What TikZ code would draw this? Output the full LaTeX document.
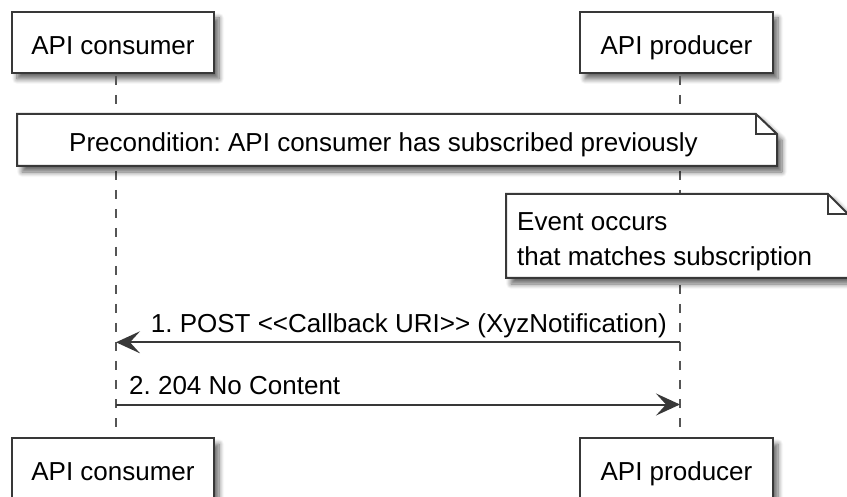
\documentclass[tikz,border=0pt]{standalone}
\usepackage{fontspec}
\setmainfont{Liberation Sans}
\usetikzlibrary{arrows.meta,shadows.blur}
\definecolor{edge}{HTML}{383838}
\definecolor{lifegray}{HTML}{555555}
\frenchspacing
\tikzset{
  softshadow/.style={blur shadow={shadow xshift=5pt, shadow yshift=-6pt,
      shadow blur radius=5pt, shadow blur steps=8, shadow opacity=60}},
  participant/.style={draw=edge, line width=2pt, fill=white, softshadow,
      minimum height=61pt, inner sep=0pt, text height=24pt, text depth=0pt,
      font=\fontsize{26}{31}\selectfont},
  notebody/.style={draw=edge, line width=2pt, fill=white, line join=miter, softshadow},
  notefold/.style={draw=edge, line width=2pt},
  lifeline/.style={draw=lifegray, line width=2pt, dash pattern=on 9pt off 10pt},
  message/.style={draw=edge, line width=2pt,
      -{Stealth[length=24pt, width=22pt, inset=10pt]}},
  msglabel/.style={font=\fontsize{26}{31}\selectfont, inner sep=0pt, anchor=base west},
  notetext/.style={font=\fontsize{26}{31}\selectfont, inner sep=0pt},
}
\begin{document}
\begin{tikzpicture}[x=1pt, y=-1pt]
  \useasboundingbox (0,0) rectangle (847,497);
  \clip (0,0) rectangle (847,497);

  % participant heads and feet
  \path (113,42.5) node[participant, minimum width=202pt] (cTop) {API consumer};
  \path (676.5,42.5) node[participant, minimum width=193pt] (pTop) {API producer};
  \path (113,468.5) node[participant, minimum width=202pt] (cBot) {API consumer};
  \path (676.5,468.5) node[participant, minimum width=193pt] (pBot) {API producer};

  % lifelines
  \draw[lifeline] ([xshift=3pt,yshift=-2pt]cTop.south) -- ([xshift=3pt]cBot.north);
  \draw[lifeline] ([xshift=3.5pt,yshift=-2pt]pTop.south) -- ([xshift=3.5pt]pBot.north);

  % precondition note spanning both lifelines
  \draw[notebody] (17,114) -- (756,114) -- (777,134) -- (777,166) -- (17,166) -- cycle;
  \draw[notefold] (756,114) -- (756,134) -- (777,134);
  \node[notetext, anchor=base] (pre) at (383.5,151.5)
    {Precondition: API consumer has subscribed previously};

  % event note on the producer lifeline
  \draw[notebody] (506,194) -- (828,194) -- (848,214) -- (848,278) -- (506,278) -- cycle;
  \draw[notefold] (828,194) -- (828,214) -- (848,214);
  \node[notetext, anchor=base west] (ev1) at (517,230.7) {Event occurs};
  \node[notetext, anchor=base west] (ev2) at (517,265.7) {that matches subscription};

  % messages
  \coordinate (m1p) at (680,342.3);
  \coordinate (m1c) at (116,342.3);
  \coordinate (m2c) at (116,404.5);
  \coordinate (m2p) at (680,404.5);
  \draw[message] (m1p) -- (m1c);
  \node[msglabel] (l1) at (150.7,333)
    {1. POST <{}<Callback URI>{}> (XyzNotification)};
  \draw[message] (m2c) -- (m2p);
  \node[msglabel] (l2) at (129,395) {2. 204 No Content};
\end{tikzpicture}
\end{document}
